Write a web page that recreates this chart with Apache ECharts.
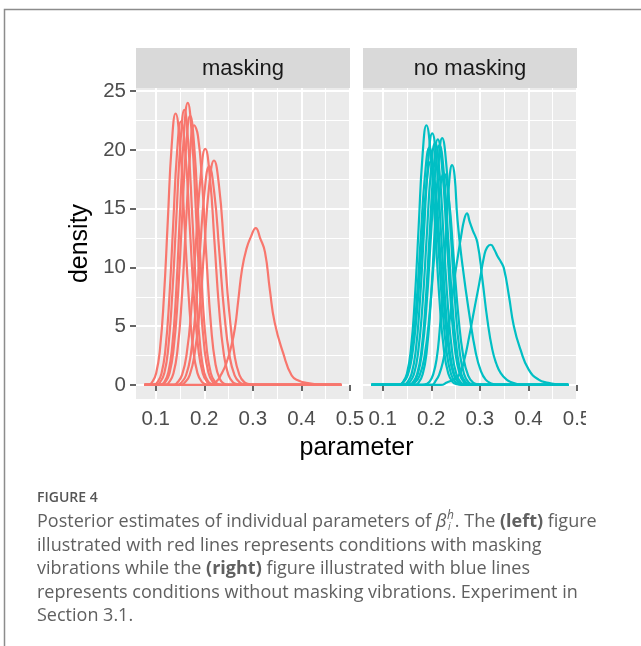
<!DOCTYPE html>
<html>
<head>
<meta charset="utf-8">
<script src="https://cdn.jsdelivr.net/npm/echarts@6/dist/echarts.min.js"></script>
<style>
  html, body { margin: 0; padding: 0; background: #ffffff; }
  #chart { width: 641px; height: 646px; }
</style>
</head>
<body>
<div id="chart"></div>
<script>
// Facet names
const panels = ['masking', 'no masking'];

// Axis ticks
const xTicks = [0.1, 0.2, 0.3, 0.4, 0.5];
const xMinor = [0.15, 0.25, 0.35, 0.45];
const yTicks = [0, 5, 10, 15, 20, 25];
const yMinor = [2.5, 7.5, 12.5, 17.5, 22.5];

// Posterior densities of the individual parameters, condition "masking"
const maskingCurves = [
  [[0.077,0],[0.085,0],[0.093,0.26],[0.101,1.0],[0.109,3.1],[0.117,7.5],[0.125,14.0],[0.133,20.4],[0.141,23.1],[0.150,20.4],[0.159,14.0],[0.168,7.5],[0.177,3.1],[0.186,1.0],[0.195,0.26],[0.204,0.05],[0.212,0],[0.482,0]],
  [[0.077,0],[0.096,0],[0.104,0.25],[0.112,0.98],[0.120,3.0],[0.128,7.3],[0.136,13.6],[0.144,19.8],[0.152,22.4],[0.161,19.8],[0.170,13.6],[0.179,7.3],[0.188,3.0],[0.197,0.98],[0.206,0.25],[0.215,0.05],[0.224,0],[0.482,0]],
  [[0.077,0],[0.101,0],[0.1095,0.26],[0.118,1.03],[0.126,3.2],[0.134,7.6],[0.1425,14.2],[0.151,20.6],[0.159,23.4],[0.167,20.6],[0.1755,14.2],[0.184,7.6],[0.192,3.2],[0.200,1.03],[0.2085,0.26],[0.217,0.05],[0.225,0],[0.482,0]],
  [[0.077,0],[0.110,0],[0.118,0.27],[0.126,1.05],[0.134,3.25],[0.142,7.8],[0.150,14.6],[0.158,21.2],[0.166,24.0],[0.1745,21.2],[0.183,14.6],[0.1915,7.8],[0.200,3.25],[0.2085,1.05],[0.217,0.27],[0.2255,0.05],[0.234,0],[0.482,0]],
  [[0.077,0],[0.112,0],[0.120,0.25],[0.1285,1.0],[0.137,3.1],[0.1455,7.4],[0.154,13.9],[0.1625,20.2],[0.171,22.9],[0.1795,20.2],[0.188,13.9],[0.1965,7.4],[0.205,3.1],[0.2135,1.0],[0.222,0.25],[0.2305,0.05],[0.239,0],[0.482,0]],
  [[0.077,0],[0.120,0],[0.128,0.25],[0.1365,0.97],[0.145,3.0],[0.1535,7.2],[0.162,13.4],[0.1705,19.5],[0.179,22.1],[0.187,21.2],[0.196,17.0],[0.205,10.5],[0.214,5.0],[0.223,1.8],[0.232,0.5],[0.241,0.1],[0.250,0],[0.482,0]],
  [[0.077,0],[0.137,0],[0.145,0.22],[0.1545,0.88],[0.164,2.7],[0.1735,6.5],[0.183,12.2],[0.1925,17.7],[0.202,20.1],[0.2115,17.7],[0.221,12.2],[0.2305,6.5],[0.240,2.7],[0.2495,0.88],[0.259,0.22],[0.2685,0.05],[0.277,0],[0.482,0]],
  [[0.077,0],[0.145,0],[0.153,0.21],[0.1625,0.82],[0.172,2.5],[0.1815,6.0],[0.191,11.3],[0.2005,16.4],[0.210,18.6],[0.2205,16.4],[0.231,11.3],[0.2415,6.0],[0.252,2.5],[0.2625,0.82],[0.273,0.21],[0.2835,0.04],[0.292,0],[0.482,0]],
  [[0.077,0],[0.152,0],[0.160,0.21],[0.170,0.84],[0.180,2.6],[0.190,6.2],[0.200,11.6],[0.210,16.9],[0.220,19.1],[0.2305,16.9],[0.241,11.6],[0.2515,6.2],[0.262,2.6],[0.2725,0.84],[0.283,0.21],[0.2935,0.05],[0.302,0],[0.482,0]],
  [[0.077,0],[0.210,0],[0.225,0.3],[0.235,0.9],[0.245,1.8],[0.255,3.2],[0.263,4.8],[0.270,7.2],[0.278,9.9],[0.287,11.6],[0.296,12.6],[0.306,13.35],[0.315,12.5],[0.325,11.3],[0.335,8.1],[0.345,5.3],[0.3625,2.7],[0.380,0.8],[0.395,0.35],[0.410,0.18],[0.430,0.05],[0.450,0],[0.482,0]]
];

// Posterior densities of the individual parameters, condition "no masking"
const noMaskingCurves = [
  [[0.077,0],[0.134,0],[0.142,0.25],[0.150,0.97],[0.158,3.0],[0.166,7.2],[0.174,13.4],[0.182,19.5],[0.190,22.1],[0.199,19.5],[0.208,13.4],[0.217,7.2],[0.226,3.0],[0.235,0.97],[0.244,0.25],[0.253,0.05],[0.262,0],[0.482,0]],
  [[0.077,0],[0.133,0],[0.142,0.22],[0.151,0.89],[0.160,2.7],[0.169,6.6],[0.178,12.3],[0.187,17.8],[0.196,20.2],[0.205,17.8],[0.214,12.3],[0.223,6.6],[0.232,2.7],[0.241,0.89],[0.250,0.22],[0.259,0.05],[0.268,0],[0.482,0]],
  [[0.077,0],[0.133,0],[0.142,0.21],[0.1515,0.83],[0.161,2.6],[0.1705,6.2],[0.180,11.5],[0.1895,16.8],[0.199,19.0],[0.2085,16.8],[0.218,11.5],[0.2275,6.2],[0.237,2.6],[0.2465,0.83],[0.256,0.21],[0.2655,0.04],[0.275,0],[0.482,0]],
  [[0.077,0],[0.143,0],[0.151,0.24],[0.1595,0.94],[0.168,2.9],[0.1765,7.0],[0.185,13.0],[0.1935,18.9],[0.202,21.4],[0.211,18.9],[0.220,13.0],[0.229,7.0],[0.238,2.9],[0.247,0.94],[0.256,0.24],[0.265,0.05],[0.274,0],[0.482,0]],
  [[0.077,0],[0.147,0],[0.1555,0.23],[0.1643,0.9],[0.173,2.8],[0.1818,6.7],[0.1905,12.5],[0.1993,18.2],[0.208,20.6],[0.2168,18.2],[0.2255,12.5],[0.2343,6.7],[0.243,2.8],[0.2518,0.9],[0.2605,0.23],[0.2693,0.05],[0.278,0],[0.482,0]],
  [[0.077,0],[0.154,0],[0.1625,0.23],[0.171,0.92],[0.1795,2.8],[0.188,6.8],[0.1965,12.7],[0.205,18.4],[0.2135,20.9],[0.2225,18.4],[0.2315,12.7],[0.2405,6.8],[0.2495,2.8],[0.2585,0.92],[0.2675,0.23],[0.2765,0.05],[0.285,0],[0.482,0]],
  [[0.077,0],[0.154,0],[0.163,0.23],[0.172,0.9],[0.181,2.8],[0.190,6.6],[0.199,12.4],[0.208,18.0],[0.217,20.4],[0.226,18.0],[0.235,12.4],[0.244,6.6],[0.253,2.8],[0.262,0.9],[0.271,0.23],[0.280,0.05],[0.289,0],[0.482,0]],
  [[0.077,0],[0.1665,0],[0.1745,0.23],[0.1825,0.92],[0.1905,2.8],[0.1985,6.8],[0.2065,12.7],[0.2145,18.5],[0.2225,21.0],[0.2315,18.5],[0.2405,12.7],[0.2495,6.8],[0.2585,2.8],[0.2675,0.92],[0.2765,0.23],[0.2855,0.05],[0.294,0],[0.482,0]],
  [[0.077,0],[0.156,0],[0.166,0.2],[0.176,0.79],[0.186,2.4],[0.196,5.8],[0.206,10.9],[0.216,15.9],[0.226,18.0],[0.236,15.9],[0.246,10.9],[0.256,5.8],[0.266,2.4],[0.276,0.79],[0.286,0.2],[0.296,0.04],[0.305,0],[0.482,0]],
  [[0.077,0],[0.182,0],[0.190,0.08],[0.197,0.3],[0.204,0.9],[0.211,2.2],[0.217,4.5],[0.224,8.5],[0.2306,13.0],[0.2373,17.5],[0.243,18.7],[0.248,17.8],[0.254,14.05],[0.2645,10.1],[0.278,6.1],[0.2918,2.7],[0.302,1.2],[0.312,0.45],[0.325,0.1],[0.335,0],[0.482,0]],
  [[0.077,0],[0.200,0],[0.210,0.4],[0.2165,0.9],[0.2237,1.9],[0.232,3.8],[0.240,6.2],[0.2476,8.95],[0.255,11.0],[0.2612,12.6],[0.268,14.1],[0.2735,14.6],[0.279,13.9],[0.285,13.2],[0.295,12.1],[0.3053,8.95],[0.3155,5.55],[0.3257,3.0],[0.334,1.8],[0.343,1.0],[0.355,0.45],[0.3665,0.2],[0.380,0.05],[0.390,0],[0.482,0]],
  [[0.077,0],[0.220,0],[0.232,0.2],[0.245,0.45],[0.258,0.9],[0.268,2.15],[0.278,4.1],[0.2884,6.4],[0.2986,8.6],[0.309,11.0],[0.315,11.7],[0.3224,11.93],[0.330,11.5],[0.337,10.9],[0.343,10.5],[0.3496,9.9],[0.360,7.55],[0.370,5.0],[0.3837,3.0],[0.4006,1.3],[0.421,0.45],[0.441,0.17],[0.460,0.03],[0.470,0],[0.482,0]]
];

const panelColors = ['#F8766D', '#00BFC4'];
const panelCurves = [maskingCurves, noMaskingCurves];

// Panel layout (pixels)
const PANEL_LEFT = [136, 363];
const PANEL_W = 214;
const PANEL_TOP = 88;
const PANEL_H = 311;
const STRIP_H = 40;
const X_MIN = 0.0595, X_MAX = 0.5;
const Y_MIN = -1.2, Y_MAX = 25.27;

const FONT = '"Liberation Sans", Arial, sans-serif';
const CAP_FONT = '"Open Sans", "Liberation Sans", sans-serif';

const chart = echarts.init(document.getElementById('chart'), null, { renderer: 'canvas' });

const grids = [], xAxes = [], yAxes = [], series = [];
panels.forEach((name, i) => {
  grids.push({ left: PANEL_LEFT[i], top: PANEL_TOP, width: PANEL_W, height: PANEL_H,
    show: true, backgroundColor: '#EBEBEB', borderWidth: 0 });
  // major x grid + ticks + labels
  xAxes.push({ gridIndex: i, type: 'value', min: X_MIN, max: X_MAX, position: 'bottom',
    axisLine: { show: false },
    axisTick: { show: true, customValues: xTicks, length: 6, lineStyle: { color: '#333333', width: 1.5 } },
    axisLabel: { show: true, customValues: xTicks, formatter: v => v.toFixed(1),
      color: '#4D4D4D', fontSize: 20.5, fontFamily: FONT, margin: 10 },
    splitLine: { show: true, lineStyle: { color: '#FFFFFF', width: 2 } } });
  // minor x grid
  xAxes.push({ gridIndex: i, type: 'value', min: X_MIN, max: X_MAX, position: 'bottom',
    axisLine: { show: false },
    axisTick: { show: false, customValues: xMinor },
    axisLabel: { show: false },
    splitLine: { show: true, lineStyle: { color: '#FFFFFF', width: 1 } } });
  // major y grid
  yAxes.push({ gridIndex: i, type: 'value', min: Y_MIN, max: Y_MAX, position: 'left',
    axisLine: { show: false },
    axisTick: { show: i === 0, customValues: yTicks, length: 6, lineStyle: { color: '#333333', width: 1.5 } },
    axisLabel: { show: i === 0, customValues: yTicks, color: '#4D4D4D', fontSize: 20.5, fontFamily: FONT, margin: 10 },
    splitLine: { show: true, lineStyle: { color: '#FFFFFF', width: 2 } } });
  // minor y grid
  yAxes.push({ gridIndex: i, type: 'value', min: Y_MIN, max: Y_MAX, position: 'left',
    axisLine: { show: false },
    axisTick: { show: false, customValues: yMinor },
    axisLabel: { show: false },
    splitLine: { show: true, lineStyle: { color: '#FFFFFF', width: 1 } } });

  panelCurves[i].forEach((curve, k) => {
    series.push({ type: 'line', name: name + ' ' + (k + 1), xAxisIndex: i * 2, yAxisIndex: i * 2,
      data: curve, showSymbol: false, smooth: 0.5, silent: true,
      lineStyle: { color: panelColors[i], width: 2.2 }, z: 3 });
  });
});

// Caption text measurement
const measureCtx = document.createElement('canvas').getContext('2d');
function textWidth(str, font) { measureCtx.font = font; return measureCtx.measureText(str).width; }

const CAP_SIZE = 18;
const CAP_COLOR = '#606060';
const CAP_X = 37;
const capLineY = [522, 545.5, 569, 592.5, 616];
const capBase = CAP_SIZE + 'px ' + CAP_FONT;
const capRich = { b: { fontWeight: 'bold', fontSize: CAP_SIZE, fontFamily: CAP_FONT, color: '#4A4A4A' } };

const line1a = 'Posterior estimates of individual parameters of ';
const betaX = CAP_X + textWidth(line1a, capBase);
const betaW = textWidth('β', 'italic ' + capBase);
const scriptX = betaX + betaW + 0.5;
const afterX = scriptX + textWidth('h', 'italic 12px ' + CAP_FONT) + 1;

const capText = (x, y, text, extra) => ({
  type: 'text', x: x, y: y, silent: true,
  style: Object.assign({ text: text, fill: CAP_COLOR, fontSize: CAP_SIZE, fontFamily: CAP_FONT,
    verticalAlign: 'middle', align: 'left', rich: capRich }, extra || {})
});

const graphics = [
  // figure frame
  { type: 'rect', silent: true, shape: { x: 4.5, y: 9.5, width: 700, height: 700 },
    style: { fill: 'none', stroke: '#8C8C8C', lineWidth: 1.5 }, z: 1 },
  // axis titles
  { type: 'text', x: 80, y: PANEL_TOP + PANEL_H / 2, rotation: Math.PI / 2, silent: true,
    style: { text: 'density', fill: '#000000', fontSize: 25, fontFamily: FONT, align: 'center', verticalAlign: 'middle' } },
  { type: 'text', x: (PANEL_LEFT[0] + PANEL_LEFT[1] + PANEL_W) / 2, y: 448, silent: true,
    style: { text: 'parameter', fill: '#000000', fontSize: 25, fontFamily: FONT, align: 'center', verticalAlign: 'middle' } },
  // the right-most tick label is trimmed at the plot's edge
  { type: 'rect', silent: true, shape: { x: 586, y: 404, width: 55, height: 34 }, style: { fill: '#FFFFFF' }, z: 10 },
  // caption
  { type: 'text', x: CAP_X, y: 498, silent: true,
    style: { text: 'FIGURE 4', fill: '#555555', fontSize: 14, fontWeight: 600, fontFamily: CAP_FONT, verticalAlign: 'middle' } },
  capText(CAP_X, capLineY[0], line1a),
  capText(betaX, capLineY[0], 'β', { fontStyle: 'italic' }),
  capText(scriptX, capLineY[0] - 6, 'h', { fontStyle: 'italic', fontSize: 12 }),
  capText(scriptX + 1, capLineY[0] + 5, 'i', { fontStyle: 'italic', fontSize: 10 }),
  capText(afterX, capLineY[0], '. The {b|(left)} figure'),
  capText(CAP_X, capLineY[1], 'illustrated with red lines represents conditions with masking'),
  capText(CAP_X, capLineY[2], 'vibrations while the {b|(right)} figure illustrated with blue lines'),
  capText(CAP_X, capLineY[3], 'represents conditions without masking vibrations. Experiment in'),
  capText(CAP_X, capLineY[4], 'Section 3.1.')
];

// facet strips
panels.forEach((name, i) => {
  graphics.push({ type: 'rect', silent: true,
    shape: { x: PANEL_LEFT[i], y: PANEL_TOP - STRIP_H, width: PANEL_W, height: STRIP_H },
    style: { fill: '#D9D9D9' } });
  graphics.push({ type: 'text', silent: true, x: PANEL_LEFT[i] + PANEL_W / 2, y: PANEL_TOP - STRIP_H / 2 + 1,
    style: { text: name, fill: '#1A1A1A', fontSize: 22, fontFamily: FONT, align: 'center', verticalAlign: 'middle' } });
});

chart.setOption({
  animation: false,
  backgroundColor: '#FFFFFF',
  textStyle: { fontFamily: FONT },
  grid: grids,
  xAxis: xAxes,
  yAxis: yAxes,
  series: series,
  graphic: { elements: graphics }
});
</script>
</body>
</html>
